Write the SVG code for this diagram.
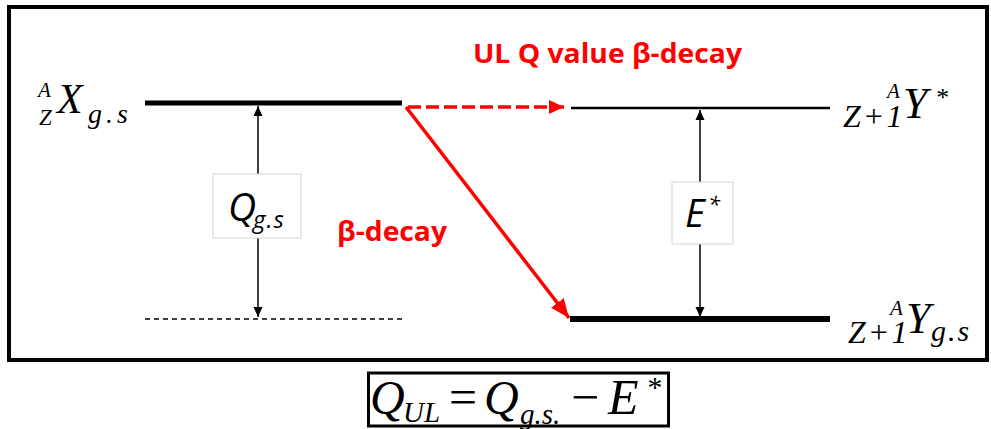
<svg xmlns="http://www.w3.org/2000/svg" width="991" height="429" viewBox="0 0 991 429">
<style>
.m{font-family:"Liberation Serif","DejaVu Serif",serif;font-style:italic;fill:#000}
.n{font-family:"Liberation Serif","DejaVu Serif",serif;fill:#000}
.s{font-family:"Open Sans","Liberation Sans",sans-serif;font-style:italic;fill:#000}
.r{font-family:"Open Sans","Liberation Sans",sans-serif;font-weight:bold;fill:#ff0000}
.lbl{fill:#fff;stroke:#d4d4d4;stroke-width:1}
</style>
<defs>
<marker id="ak" markerWidth="10" markerHeight="10" refX="10" refY="5" orient="auto-start-reverse" markerUnits="userSpaceOnUse"><path d="M0,0.5 L10,5 L0,9.5 z" fill="#000"/></marker>
<marker id="ar" markerWidth="16" markerHeight="14" refX="15" refY="7" orient="auto" markerUnits="userSpaceOnUse"><path d="M0,0 L15,7 L0,14 z" fill="#ff0000"/></marker>
<marker id="ar2" markerWidth="20" markerHeight="16" refX="19" refY="8" orient="auto" markerUnits="userSpaceOnUse"><path d="M0,0 L19,8 L0,16 z" fill="#ff0000"/></marker>
</defs>
<rect x="9" y="7" width="978" height="353" fill="#fff" stroke="#000" stroke-width="4"/>
<g id="levels">
<line x1="145" y1="103" x2="402" y2="103" stroke="#000" stroke-width="5"/>
<line x1="145" y1="319" x2="402" y2="319" stroke="#000" stroke-width="1.3" stroke-dasharray="5,4"/>
<line x1="571" y1="108" x2="830" y2="108" stroke="#000" stroke-width="2.5"/>
<line x1="570" y1="319" x2="830" y2="319" stroke="#000" stroke-width="6"/>
</g>
<g id="connectors">
<line x1="258" y1="106" x2="258" y2="317" stroke="#000" stroke-width="1.5" marker-start="url(#ak)" marker-end="url(#ak)"/>
<line x1="700" y1="110" x2="700" y2="317" stroke="#000" stroke-width="1.5" marker-start="url(#ak)" marker-end="url(#ak)"/>
<line x1="408" y1="107" x2="564" y2="107" stroke="#ff0000" stroke-width="3.5" stroke-dasharray="13,5" marker-end="url(#ar)"/>
<line x1="406" y1="107" x2="569" y2="318" stroke="#ff0000" stroke-width="3.5" marker-end="url(#ar2)"/>
</g>
<g id="qgs">
<rect class="lbl" x="213" y="174" width="88" height="64"/>
<text class="s" x="228" y="221" font-size="39">Q</text>
<text class="s" x="253" y="228" font-size="24" letter-spacing="1">g.s</text>
</g>
<g id="estar">
<rect class="lbl" x="672" y="182" width="61" height="62"/>
<text class="s" x="685" y="227" font-size="38">E</text>
<text class="s" x="708" y="212" font-size="22">*</text>
</g>
<g id="Xgs">
<text class="m" x="38" y="97" font-size="21">A</text>
<text class="m" x="39" y="125" font-size="23">Z</text>
<text class="m" x="57" y="113" font-size="42">X</text>
<text class="m" x="88" y="123" font-size="28" letter-spacing="4">g.s</text>
</g>
<g id="Ystar">
<text class="m" x="887" y="98" font-size="21">A</text>
<text class="m" x="843" y="127" font-size="32" letter-spacing="2">Z+1</text>
<text class="m" x="903" y="118" font-size="44">Y</text>
<text class="m" x="935" y="106" font-size="26">*</text>
</g>
<g id="Ygs">
<text class="m" x="890" y="315" font-size="21">A</text>
<text class="m" x="848" y="343" font-size="32" letter-spacing="2">Z+1</text>
<text class="m" x="906" y="333" font-size="44">Y</text>
<text class="m" x="931" y="341" font-size="30" letter-spacing="2">g.s</text>
</g>
<g id="labels">
<text class="r" x="473" y="63" font-size="26" textLength="269" lengthAdjust="spacingAndGlyphs">UL Q value β-decay</text>
<text class="r" x="337" y="241" font-size="26" textLength="110" lengthAdjust="spacingAndGlyphs">β-decay</text>
</g>
<g id="formula">
<rect x="368.5" y="373" width="300" height="53" fill="#fff" stroke="#000" stroke-width="3"/>
<text class="m" x="370" y="414" font-size="48">Q</text>
<text class="m" x="403" y="422" font-size="29">UL</text>
<text class="n" x="449" y="414" font-size="50">=</text>
<text class="m" x="484" y="414" font-size="48">Q</text>
<text class="m" x="520" y="424" font-size="29">g.s.</text>
<text class="n" x="571" y="414" font-size="50">−</text>
<text class="m" x="608" y="414" font-size="50">E</text>
<text class="m" x="646" y="397" font-size="30">*</text>
</g>
</svg>
